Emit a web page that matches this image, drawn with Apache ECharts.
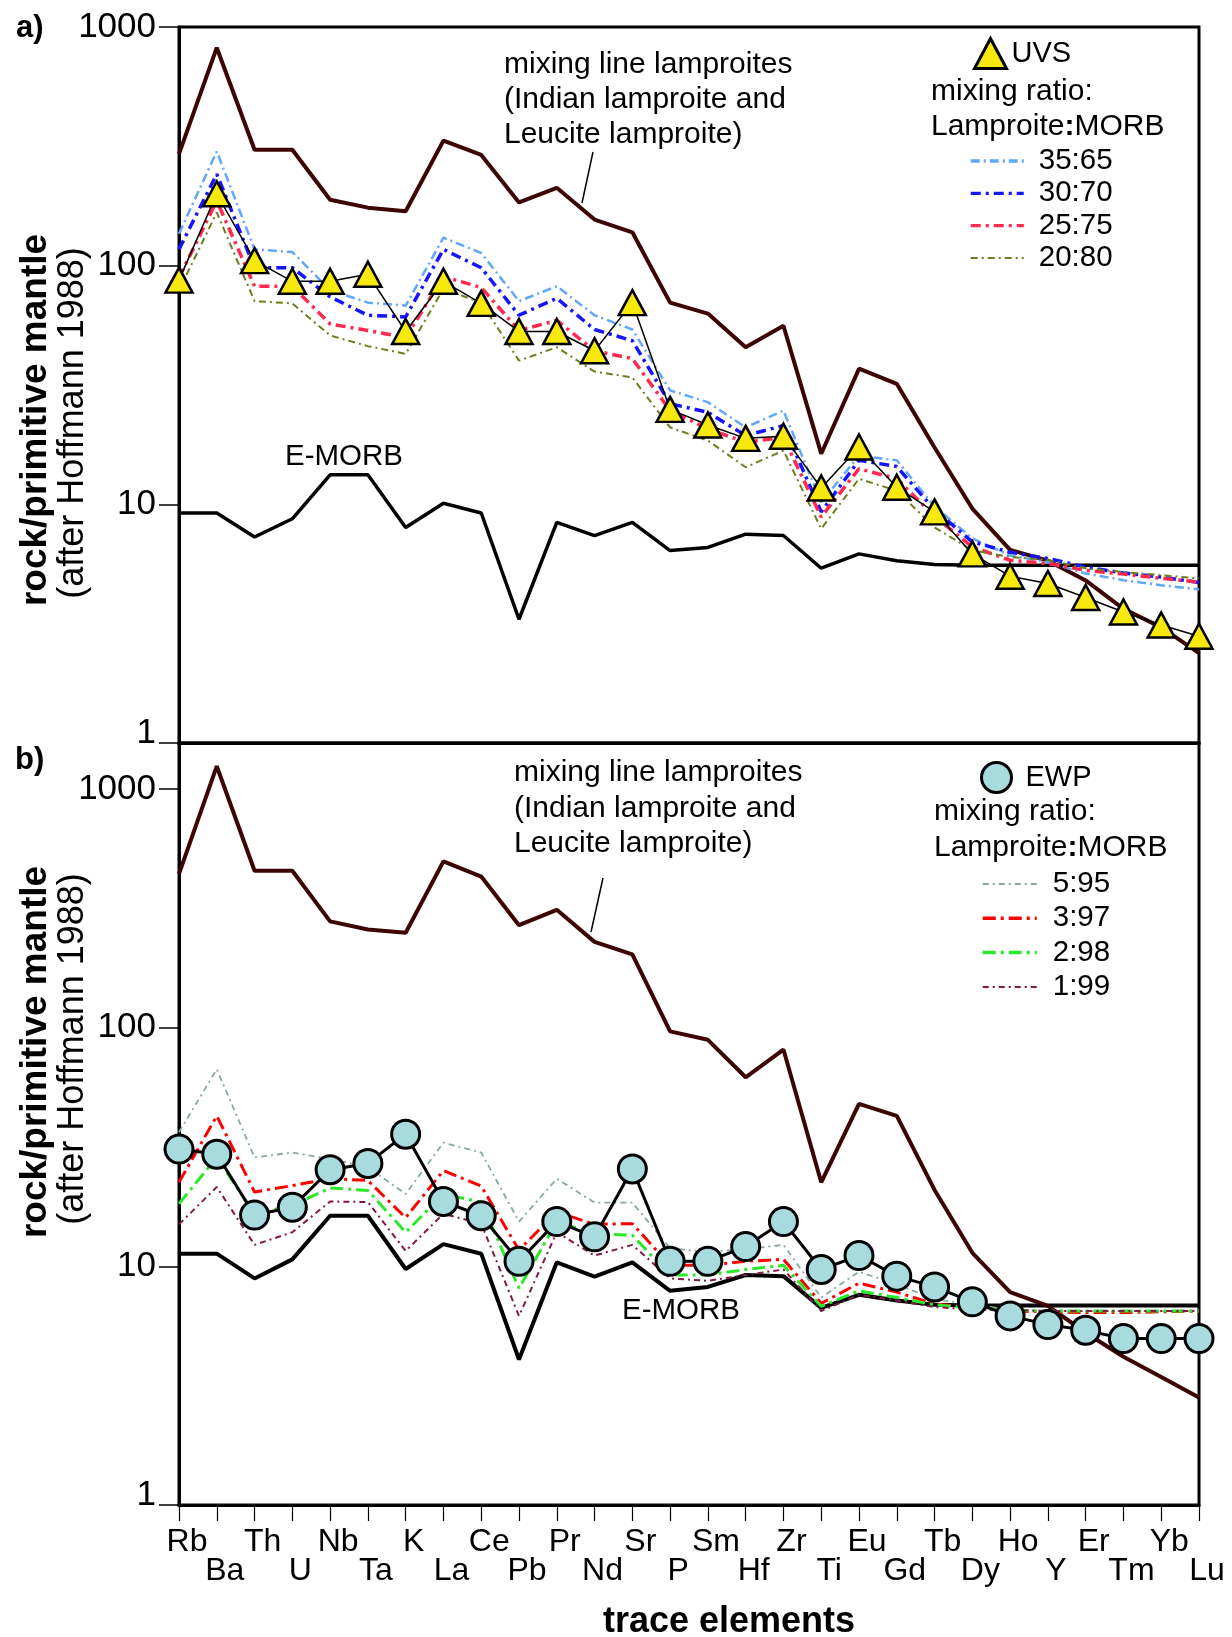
<!DOCTYPE html>
<html><head><meta charset="utf-8">
<script src="https://cdn.jsdelivr.net/npm/echarts@6/dist/echarts.min.js"></script>
<style>html,body{margin:0;padding:0;background:#fff}#c{width:1232px;height:1637px}</style>
</head><body><div id="c"></div>
<script>
// ---- data ----
const elements = ['Rb','Ba','Th','U','Nb','Ta','K','La','Ce','Pb','Pr','Nd','Sr','P','Sm','Hf','Zr','Ti','Eu','Gd','Tb','Dy','Ho','Y','Er','Tm','Yb','Lu'];

// panel a
const lamproiteA = [294, 819, 306, 306, 189, 175, 169, 334, 291, 184, 212, 156, 138, 70, 63, 45.5, 56, 16.3, 37, 32, 17.3, 9.6, 6.44, 5.81, 4.8, 3.65, 3.05, 2.38];
const emorbA = [9.2, 9.2, 7.3, 8.7, 13.3, 13.3, 8.0, 10.1, 9.2, 3.3, 8.4, 7.4, 8.4, 6.4, 6.6, 7.5, 7.4, 5.4, 6.2, 5.8, 5.6, 5.55, 5.55, 5.55, 5.55, 5.55, 5.55, 5.55];
const uvs = [87, 200, 105, 86, 86, 92, 53, 86, 69.5, 53, 53, 44, 70, 25, 21.5, 18.9, 19.3, 11.7, 17.4, 11.8, 9.3, 6.2, 5.0, 4.66, 4.07, 3.54, 3.12, 2.80];
const mix35 = [136, 301, 117, 114, 79, 70, 68, 131, 113, 71, 82, 62, 54, 30, 26.8, 21, 24.7, 10.2, 16, 15.3, 9.8, 7.2, 6.1, 5.73, 5.13, 4.81, 4.58, 4.4];
const mix30 = [117, 242, 98, 98, 74, 62, 61, 117, 98, 62, 73, 54, 48.5, 26.4, 24.3, 19.4, 21.4, 9.3, 15.3, 14.4, 9.5, 6.96, 6.3, 5.93, 5.46, 5.16, 4.96, 4.7];
const mix25 = [89, 187, 82, 82, 57, 53.5, 50, 90, 81, 53.5, 59, 44, 40.8, 24.7, 20.7, 18.2, 19.1, 8.85, 14.1, 12.8, 8.9, 6.63, 5.83, 5.65, 5.29, 5.1, 4.9, 4.72];
const mix20 = [79, 167, 71, 69.5, 51, 46, 42.7, 80, 70, 40, 45.5, 36, 34, 21, 18.5, 14.3, 16.8, 7.9, 12.8, 11.4, 8.0, 6.42, 6.02, 5.85, 5.4, 5.2, 5.05, 4.89];

// panel b
const lamproiteB = [441, 1247, 455, 455, 279, 258, 250, 498, 430, 269, 312, 229, 203, 96.5, 89, 62, 81, 22.5, 48, 42.7, 20.9, 11.4, 7.8, 6.83, 5.27, 4.18, 3.44, 2.82];
const emorbB = [11.3, 11.3, 8.9, 10.7, 16.3, 16.3, 9.75, 12.4, 11.3, 4.07, 10.4, 9.06, 10.4, 7.9, 8.2, 9.2, 9.1, 6.7, 7.6, 7.2, 6.9, 6.86, 6.86, 6.86, 6.86, 6.86, 6.86, 6.86];
const ewp = [31, 29.5, 16.4, 17.7, 25.4, 27, 35.8, 18.7, 16.3, 10.5, 15.4, 13.3, 25.6, 10.5, 10.5, 12.1, 15.4, 9.7, 11.1, 9.1, 8.2, 7.1, 6.2, 5.7, 5.4, 4.98, 4.98, 4.98];
const mix5 = [36.5, 67, 28.6, 30, 28.2, 26, 20.1, 33, 30, 15.4, 23.3, 18.5, 18.5, 11.9, 11.5, 11.8, 12.3, 7.4, 9.5, 8.4, 7.3, 6.9, 6.6, 6.5, 6.5, 6.5, 6.5, 6.5];
const mix3 = [22.5, 42.7, 20.5, 21.8, 23.3, 22.9, 16, 25.2, 21.7, 11.7, 16.9, 15, 15.1, 10.1, 10.1, 10.5, 10.7, 7.0, 8.5, 7.8, 6.95, 6.75, 6.5, 6.45, 6.4, 6.4, 6.45, 6.5];
const mix2 = [18.3, 28.6, 16.6, 18, 21.3, 20.8, 13.9, 20.1, 18.6, 8.1, 15.4, 13.7, 13.5, 9.2, 9.2, 9.7, 10.1, 6.8, 7.9, 7.4, 6.9, 6.7, 6.55, 6.5, 6.5, 6.5, 6.5, 6.5];
const mix1 = [15, 21.5, 12.3, 13.9, 18.7, 18.6, 11.6, 16.6, 15.1, 6.2, 13.9, 11.1, 12.3, 8.9, 8.7, 9.2, 9.7, 6.5, 7.6, 7.2, 6.75, 6.6, 6.55, 6.5, 6.5, 6.5, 6.5, 6.5];

const yTicks = [1, 10, 100, 1000];

// ---- chart ----
const FONT = '"Liberation Sans", Arial, Helvetica, sans-serif';
const chart = echarts.init(document.getElementById('c'), null, {renderer: 'canvas'});

function yAxisCfg(gi, max) {
  return {
    type: 'log', logBase: 10, gridIndex: gi, min: 1, max: max,
    axisLine: {show: true, lineStyle: {color: '#000', width: 3}},
    axisTick: {show: true, length: 20, lineStyle: {color: '#000', width: 1.5}},
    minorTick: {show: false}, splitLine: {show: false},
    axisLabel: {
      fontFamily: FONT, fontSize: 35, color: '#000', margin: 23,
      formatter: function (v) {
        const hit = yTicks.find(t => Math.abs(Math.log10(v) - Math.log10(t)) < 1e-6);
        if (hit === undefined) return '';
        return hit === 1 ? '{one|1}' : String(hit);
      },
      rich: {one: {fontFamily: FONT, fontSize: 35, color: '#000', padding: [0, 0, 20, 0]}}
    }
  };
}

function dashLine(name, data, gi, color, width, dash, z) {
  return {
    name: name, type: 'line', xAxisIndex: gi, yAxisIndex: gi, data: data,
    symbol: 'none', silent: true, z: z || 3,
    lineStyle: {color: color, width: width, type: dash},
    itemStyle: {color: color}
  };
}

const option = {
  animation: false,
  backgroundColor: '#fff',
  grid: [
    {left: 179, top: 27, width: 1020, height: 716, show: true, borderColor: '#000', borderWidth: 3, backgroundColor: 'transparent', containLabel: false, outerBoundsMode: 'none'},
    {left: 179, top: 743, width: 1020, height: 762, show: true, borderColor: '#000', borderWidth: 3, backgroundColor: 'transparent', containLabel: false, outerBoundsMode: 'none'}
  ],
  xAxis: [
    {type: 'category', gridIndex: 0, data: elements, boundaryGap: false,
     axisLine: {show: true, lineStyle: {color: '#000', width: 3}},
     axisTick: {show: false}, axisLabel: {show: false}, splitLine: {show: false}},
    {type: 'category', gridIndex: 1, data: elements, boundaryGap: false,
     axisLine: {show: true, lineStyle: {color: '#000', width: 3}},
     axisTick: {show: true, interval: 0, length: 16, lineStyle: {color: '#000', width: 1.2}},
     axisLabel: {show: true, interval: 0, margin: 23, fontFamily: FONT, fontSize: 32, lineHeight: 29, color: '#000',
       padding: [0, 0, 0, 16],
       formatter: function (v, i) { return i % 2 ? '\n' + v : v; }},
     splitLine: {show: false}}
  ],
  yAxis: [yAxisCfg(0, 1000), yAxisCfg(1, 1560)],
  legend: [
    {data: [{name: 'UVS', icon: 'triangle'}], left: 973, top: 37, orient: 'vertical', padding: 0,
     itemWidth: 32, itemHeight: 30, selectedMode: false,
     itemStyle: {color: '#f7e80d', borderColor: '#000', borderWidth: 3},
     textStyle: {fontFamily: FONT, fontSize: 29, color: '#000', lineHeight: 30}},
    {data: [
       {name: '35:65', lineStyle: {width: 3.5, type: [9, 4, 2, 4]}},
       {name: '30:70', lineStyle: {width: 3.2, type: [10, 5, 3, 5]}},
       {name: '25:75', lineStyle: {width: 3.2, type: [10, 5, 3, 5]}},
       {name: '20:80', lineStyle: {width: 2, type: [7, 4, 2, 4]}}
     ], left: 969, top: 146, orient: 'vertical', padding: 0,
     itemWidth: 53, itemHeight: 14, itemGap: 2.3, selectedMode: false,
     itemStyle: {opacity: 0},
     textStyle: {fontFamily: FONT, fontSize: 29.5, color: '#000', lineHeight: 30, padding: [0, 0, 0, 10]}},
    {data: [{name: 'EWP', icon: 'circle'}], left: 980, top: 761, orient: 'vertical', padding: 0,
     itemWidth: 30, itemHeight: 30, selectedMode: false,
     itemStyle: {color: '#a8dbde', borderColor: '#000', borderWidth: 3},
     textStyle: {fontFamily: FONT, fontSize: 29, color: '#000', lineHeight: 30, padding: [0, 0, 0, 9]}},
    {data: [
       {name: '5:95', lineStyle: {width: 1.8, type: [6, 4, 2, 4]}},
       {name: '3:97', lineStyle: {width: 3.5, type: [13, 5, 3, 5]}},
       {name: '2:98', lineStyle: {width: 3.5, type: [13, 5, 3, 5]}},
       {name: '1:99', lineStyle: {width: 2, type: [6, 4, 2, 4]}}
     ], left: 981, top: 869, orient: 'vertical', padding: 0,
     itemWidth: 54, itemHeight: 14, itemGap: 4.3, selectedMode: false,
     itemStyle: {opacity: 0},
     textStyle: {fontFamily: FONT, fontSize: 29.5, color: '#000', lineHeight: 30, padding: [0, 0, 0, 11]}}
  ],
  series: [
    // panel a
    {name: 'E-MORB a', type: 'line', xAxisIndex: 0, yAxisIndex: 0, data: emorbA, symbol: 'none', silent: true, z: 2,
     lineStyle: {color: '#000', width: 3.5}},
    {name: 'lamproites a', type: 'line', xAxisIndex: 0, yAxisIndex: 0, data: lamproiteA, symbol: 'none', silent: true, z: 2,
     lineStyle: {color: '#3d0404', width: 4}},
    dashLine('35:65', mix35, 0, '#62a8fa', 2.5, [9, 4, 2, 4]),
    dashLine('30:70', mix30, 0, '#1414ff', 3.5, [10, 5, 3, 5]),
    dashLine('25:75', mix25, 0, '#ff2850', 3.5, [10, 5, 3, 5]),
    dashLine('20:80', mix20, 0, '#6e7d1e', 2, [7, 4, 2, 4]),
    {name: 'UVS', type: 'line', xAxisIndex: 0, yAxisIndex: 0, data: uvs, z: 10, clip: false,
     symbol: 'triangle', symbolSize: [27, 25], showAllSymbol: true, silent: true,
     lineStyle: {color: '#000', width: 1.5},
     itemStyle: {color: '#f7e80d', borderColor: '#000', borderWidth: 2.5}},
    // panel b
    {name: 'E-MORB b', type: 'line', xAxisIndex: 1, yAxisIndex: 1, data: emorbB, symbol: 'none', silent: true, z: 2,
     lineStyle: {color: '#000', width: 4}},
    {name: 'lamproites b', type: 'line', xAxisIndex: 1, yAxisIndex: 1, data: lamproiteB, symbol: 'none', silent: true, z: 2,
     lineStyle: {color: '#3d0404', width: 4}},
    dashLine('5:95', mix5, 1, '#86aaa0', 1.8, [6, 4, 2, 4]),
    dashLine('3:97', mix3, 1, '#ff0000', 3, [13, 5, 3, 5]),
    dashLine('2:98', mix2, 1, '#2be82b', 3, [13, 5, 3, 5]),
    dashLine('1:99', mix1, 1, '#801848', 2, [6, 4, 2, 4]),
    {name: 'EWP', type: 'line', xAxisIndex: 1, yAxisIndex: 1, data: ewp, z: 10, clip: false,
     symbol: 'circle', symbolSize: 28, showAllSymbol: true, silent: true,
     lineStyle: {color: '#000', width: 3},
     itemStyle: {color: '#a8dbde', borderColor: '#000', borderWidth: 3}}
  ],
  graphic: [
    {type: 'text', x: 16, y: 28, z: 100, style: {text: 'a)', font: 'bold 31px ' + FONT, fill: '#000', verticalAlign: 'middle'}},
    {type: 'text', x: 15, y: 760, z: 100, style: {text: 'b)', font: 'bold 31px ' + FONT, fill: '#000', verticalAlign: 'middle'}},
    {type: 'text', x: 36, y: 420, rotation: Math.PI / 2, z: 100, style: {text: 'rock/primitive mantle', font: 'bold 37px ' + FONT, fill: '#000', align: 'center', verticalAlign: 'middle'}},
    {type: 'text', x: 73, y: 423, rotation: Math.PI / 2, z: 100, style: {text: '(after Hoffmann 1988)', font: '36px ' + FONT, fill: '#000', align: 'center', verticalAlign: 'middle'}},
    {type: 'text', x: 36, y: 1052, rotation: Math.PI / 2, z: 100, style: {text: 'rock/primitive mantle', font: 'bold 37px ' + FONT, fill: '#000', align: 'center', verticalAlign: 'middle'}},
    {type: 'text', x: 73, y: 1049, rotation: Math.PI / 2, z: 100, style: {text: '(after Hoffmann 1988)', font: '36px ' + FONT, fill: '#000', align: 'center', verticalAlign: 'middle'}},
    {type: 'text', x: 729, y: 1622, z: 100, style: {text: 'trace elements', font: 'bold 36px ' + FONT, fill: '#000', align: 'center', verticalAlign: 'middle'}},
    // annotations panel a
    {type: 'text', x: 504, y: 65, z: 100, style: {text: 'mixing line lamproites', font: '30px ' + FONT, fill: '#000', verticalAlign: 'middle'}},
    {type: 'text', x: 504, y: 100, z: 100, style: {text: '(Indian lamproite and', font: '30px ' + FONT, fill: '#000', verticalAlign: 'middle'}},
    {type: 'text', x: 504, y: 135, z: 100, style: {text: 'Leucite lamproite)', font: '30px ' + FONT, fill: '#000', verticalAlign: 'middle'}},
    {type: 'line', z: 100, shape: {x1: 593, y1: 152, x2: 582, y2: 203}, style: {stroke: '#000', lineWidth: 1.5}},
    {type: 'text', x: 285, y: 457, z: 100, style: {text: 'E-MORB', font: '29.5px ' + FONT, fill: '#000', verticalAlign: 'middle'}},
    {type: 'text', x: 931, y: 92, z: 100, style: {text: 'mixing ratio:', font: '30px ' + FONT, fill: '#000', verticalAlign: 'middle'}},
    {type: 'text', x: 931, y: 127, z: 100, style: {text: '{n|Lamproite}{b|:}{n|MORB}', verticalAlign: 'middle',
      rich: {n: {font: '30px ' + FONT, fill: '#000'}, b: {font: 'bold 30px ' + FONT, fill: '#000'}}}},
    // annotations panel b
    {type: 'text', x: 514, y: 773, z: 100, style: {text: 'mixing line lamproites', font: '30px ' + FONT, fill: '#000', verticalAlign: 'middle'}},
    {type: 'text', x: 514, y: 809, z: 100, style: {text: '(Indian lamproite and', font: '30px ' + FONT, fill: '#000', verticalAlign: 'middle'}},
    {type: 'text', x: 514, y: 844, z: 100, style: {text: 'Leucite lamproite)', font: '30px ' + FONT, fill: '#000', verticalAlign: 'middle'}},
    {type: 'line', z: 100, shape: {x1: 603, y1: 878, x2: 591, y2: 932}, style: {stroke: '#000', lineWidth: 1.5}},
    {type: 'text', x: 622, y: 1311, z: 100, style: {text: 'E-MORB', font: '29.5px ' + FONT, fill: '#000', verticalAlign: 'middle'}},
    {type: 'text', x: 934, y: 812, z: 100, style: {text: 'mixing ratio:', font: '30px ' + FONT, fill: '#000', verticalAlign: 'middle'}},
    {type: 'text', x: 934, y: 848, z: 100, style: {text: '{n|Lamproite}{b|:}{n|MORB}', verticalAlign: 'middle',
      rich: {n: {font: '30px ' + FONT, fill: '#000'}, b: {font: 'bold 30px ' + FONT, fill: '#000'}}}}
  ]
};
chart.setOption(option);
</script>
</body></html>
